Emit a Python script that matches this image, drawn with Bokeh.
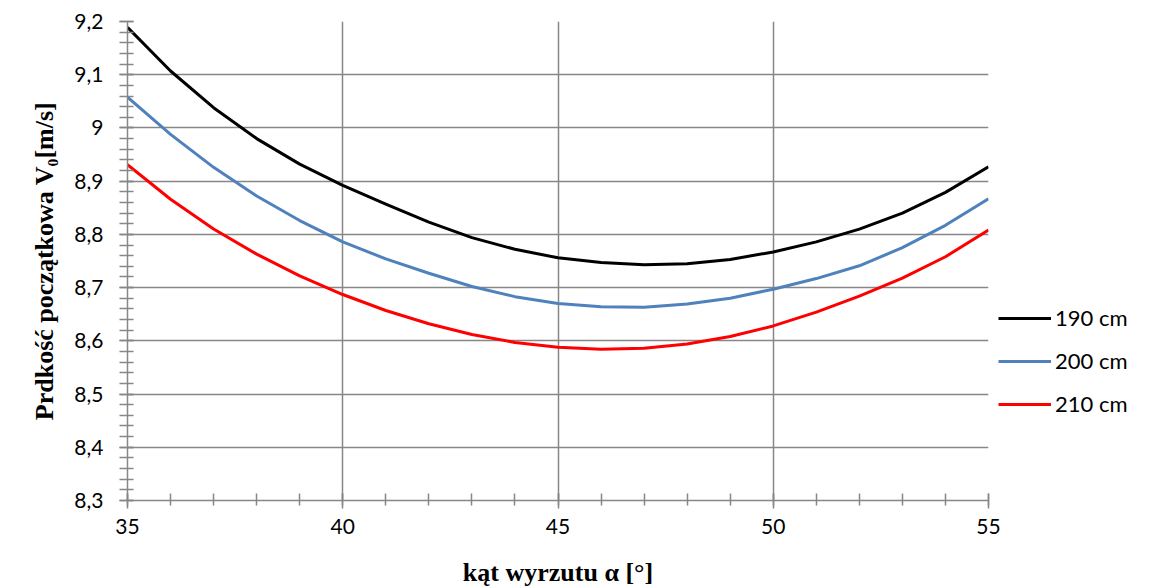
from bokeh.plotting import figure
from bokeh.models import FixedTicker, Range1d, Legend, LegendItem
from bokeh.embed import file_html
from bokeh.resources import INLINE

angles = list(range(35, 56))
v_190 = [9.189, 9.107, 9.038, 8.980, 8.932, 8.892, 8.857, 8.823, 8.794, 8.772, 8.756,
         8.747, 8.743, 8.745, 8.753, 8.767, 8.786, 8.810, 8.840, 8.879, 8.927]
v_200 = [9.058, 8.988, 8.926, 8.872, 8.826, 8.786, 8.754, 8.727, 8.702, 8.683, 8.670,
         8.664, 8.663, 8.669, 8.680, 8.697, 8.717, 8.741, 8.775, 8.817, 8.867]
v_210 = [8.931, 8.866, 8.810, 8.763, 8.722, 8.687, 8.657, 8.632, 8.612, 8.597, 8.588,
         8.584, 8.586, 8.594, 8.608, 8.628, 8.654, 8.684, 8.718, 8.758, 8.808]
series_names = ["190 cm", "200 cm", "210 cm"]
series_colors = ["#000000", "#4F81BD", "#FF0000"]

x_ticks = [35, 40, 45, 50, 55]
x_minor = list(range(35, 56))
y_ticks = [8.3, 8.4, 8.5, 8.6, 8.7, 8.8, 8.9, 9.0, 9.1, 9.2]
y_tick_labels = ["8,3", "8,4", "8,5", "8,6", "8,7", "8,8", "8,9", "9", "9,1", "9,2"]
y_minor = [round(8.3 + 0.02 * i, 2) for i in range(46)]

p = figure(frame_width=861, frame_height=479, output_backend="svg", toolbar_location=None,
           x_range=Range1d(35, 55), y_range=Range1d(8.3, 9.2),
           min_border_left=127, min_border_right=150, min_border_top=21, min_border_bottom=80)
p.outline_line_color = None
p.background_fill_color = "white"
p.border_fill_color = "white"

grid_col = "#878787"
p.xaxis.ticker = FixedTicker(ticks=x_ticks, minor_ticks=x_minor)
p.yaxis.ticker = FixedTicker(ticks=y_ticks, minor_ticks=y_minor)
p.yaxis.major_label_overrides = {t: l for t, l in zip(y_ticks, y_tick_labels)}
p.xaxis.major_label_overrides = {t: str(t) for t in x_ticks}

for ax in (p.xaxis, p.yaxis):
    ax.axis_line_color = grid_col
    ax.axis_line_width = 1.5
    ax.major_tick_line_color = grid_col
    ax.minor_tick_line_color = grid_col
    ax.major_tick_line_width = 1.5
    ax.minor_tick_line_width = 1.5
    ax.major_label_text_font = "Lato"
    ax.major_label_text_font_size = "21px"
    ax.major_label_text_color = "#000000"
    ax.axis_label_text_font = "Liberation Serif"
    ax.axis_label_text_font_style = "bold"
    ax.axis_label_text_font_size = "26px"
    ax.axis_label_text_color = "#000000"

p.yaxis.major_tick_in = 6
p.yaxis.major_tick_out = 8
p.yaxis.minor_tick_in = 6
p.yaxis.minor_tick_out = 8
p.yaxis.major_label_standoff = 16
p.yaxis.axis_label = "Prdkość początkowa V₀[m/s]"
p.yaxis.axis_label_standoff = 12

p.xaxis.major_tick_in = 7
p.xaxis.major_tick_out = 8
p.xaxis.minor_tick_in = 7
p.xaxis.minor_tick_out = 5
p.xaxis.major_label_standoff = 10
p.xaxis.axis_label = "kąt wyrzutu α [°]"
p.xaxis.axis_label_standoff = 21

p.xgrid.ticker = FixedTicker(ticks=x_ticks)
p.ygrid.ticker = FixedTicker(ticks=y_ticks)
for g in (p.xgrid, p.ygrid):
    g.grid_line_color = grid_col
    g.grid_line_width = 1.5

renderers = []
for vals, col in zip([v_190, v_200, v_210], series_colors):
    r = p.line(angles, vals, line_color=col, line_width=3, line_join="round")
    renderers.append(r)

legend = Legend(items=[LegendItem(label=n, renderers=[r]) for n, r in zip(series_names, renderers)],
                location=(10, 83))
legend.background_fill_alpha = 0
legend.border_line_color = None
legend.label_text_font = "Lato"
legend.label_text_font_size = "22px"
legend.label_text_color = "#000000"
legend.glyph_width = 53
legend.glyph_height = 22
legend.label_height = 22
legend.spacing = 16
legend.label_standoff = 4
legend.padding = 0
legend.margin = 0
p.add_layout(legend, "right")

open("out.html", "w").write(file_html(p, INLINE))
